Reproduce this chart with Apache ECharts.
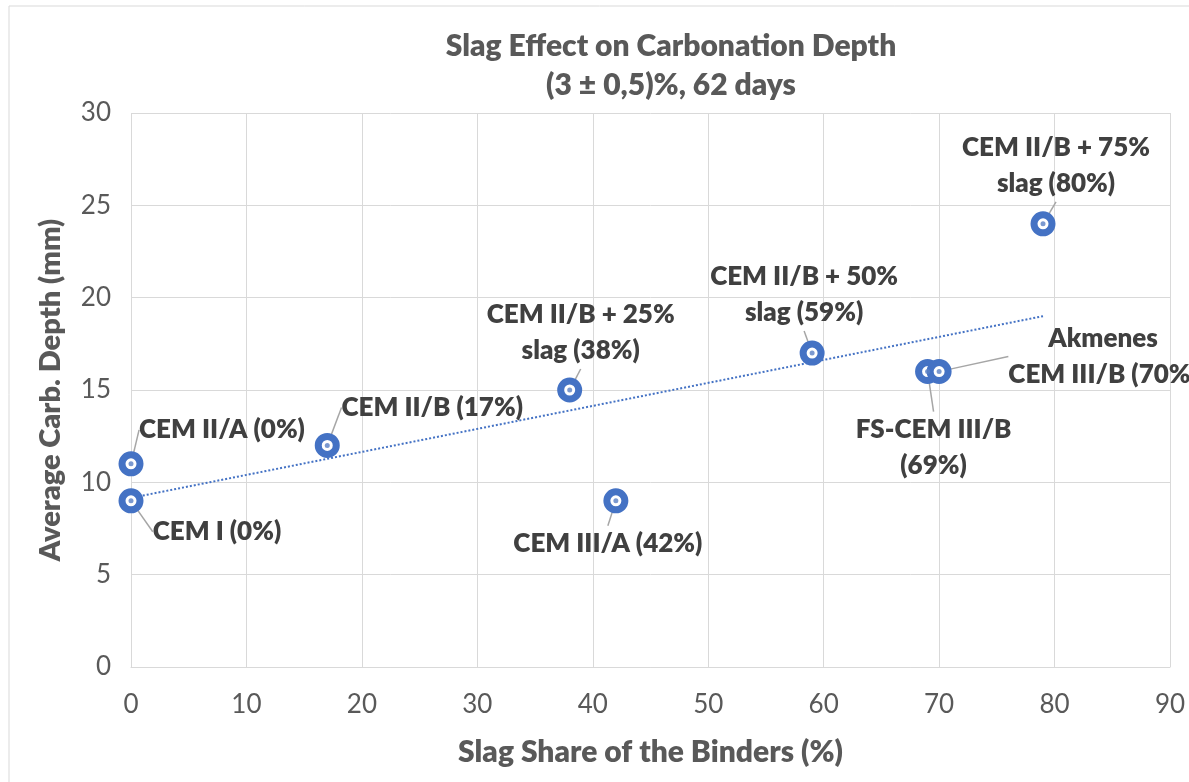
<!DOCTYPE html>
<html>
<head>
<meta charset="utf-8">
<title>Slag Effect on Carbonation Depth</title>
<script src="https://cdn.jsdelivr.net/npm/echarts@6.0.0/dist/echarts.min.js"></script>
<style>
  html, body { margin: 0; padding: 0; background: #fff; }
  #chart { width: 1189px; height: 782px; }
</style>
</head>
<body>
<div id="chart"></div>
<script>
// data
var mixNames = [
  'CEM I (0%)',
  'CEM II/A (0%)',
  'CEM II/B (17%)',
  'CEM II/B + 25%\nslag (38%)',
  'CEM III/A (42%)',
  'CEM II/B + 50%\nslag (59%)',
  'FS-CEM III/B\n(69%)',
  'Akmenes\nCEM III/B (70%)',
  'CEM II/B + 75%\nslag (80%)'
]
var slagShare = [0, 0, 17, 38, 42, 59, 69, 70, 79]
var carbDepth = [9, 11, 12, 15, 9, 17, 16, 16, 24]

// where each data label sits relative to its marker (px)
var labelShift = [
  [86, 31], [91, -34], [105, -38], [11, -57], [-8, 43],
  [-8, -58], [6, 76], [164, -15], [13, -58]
]

var points = slagShare.map(function (x, i) { return [x, carbDepth[i]] })

// linear trendline (least squares) like Excel's
function trend(xs, ys) {
  var n = xs.length, sx = 0, sy = 0, sxy = 0, sxx = 0
  for (var i = 0; i < n; i++) {
    sx += xs[i]; sy += ys[i]; sxy += xs[i] * ys[i]; sxx += xs[i] * xs[i]
  }
  var k = (n * sxy - sx * sy) / (n * sxx - sx * sx)
  var b = (sy - k * sx) / n
  var x0 = Math.min.apply(null, xs), x1 = Math.max.apply(null, xs)
  return [[x0, b + k * x0], [x1, b + k * x1]]
}

var FONT = 'Lato'
var GRAY = '#595959'
var BLUE = '#4472C4'

var chart = echarts.init(document.getElementById('chart'))
var option = {
  animation: false,
  backgroundColor: '#fff',
  graphic: [
    {
      type: 'rect',
      shape: { x: 9, y: 6, width: 1200, height: 800 },
      style: { fill: 'none', stroke: '#d9d9d9', lineWidth: 1 },
      silent: true
    },
    {
      type: 'text',
      x: 671, y: 46,
      style: {
        text: 'Slag Effect on Carbonation Depth',
        fill: GRAY, font: '800 30px ' + FONT,
        align: 'center', verticalAlign: 'middle'
      }
    },
    {
      type: 'text',
      x: 671, y: 85,
      style: {
        text: '(3 \u00b1 0,5)%, 62 days',
        fill: GRAY, font: '800 30px ' + FONT,
        align: 'center', verticalAlign: 'middle'
      }
    }
  ],
  grid: { left: 131, right: 19, top: 113, bottom: 115, outerBoundsMode: 'none' },
  xAxis: {
    type: 'value',
    min: 0, max: 90, interval: 10,
    name: 'Slag Share of the Binders (%)',
    nameLocation: 'middle',
    nameGap: 85,
    nameTextStyle: { color: GRAY, fontFamily: FONT, fontWeight: 800, fontSize: 30, verticalAlign: 'middle' },
    axisLine: { show: true, lineStyle: { color: '#d9d9d9', width: 1 } },
    axisTick: { show: false },
    axisLabel: { color: GRAY, fontFamily: FONT, fontSize: 26, margin: 25 },
    splitLine: { show: true, lineStyle: { color: '#d9d9d9', width: 1 } }
  },
  yAxis: {
    type: 'value',
    min: 0, max: 30, interval: 5,
    name: 'Average Carb. Depth (mm)',
    nameLocation: 'middle',
    nameGap: 80,
    nameTextStyle: { color: GRAY, fontFamily: FONT, fontWeight: 800, fontSize: 29, verticalAlign: 'middle' },
    axisLine: { show: false },
    axisTick: { show: false },
    axisLabel: { color: GRAY, fontFamily: FONT, fontSize: 26, margin: 20 },
    splitLine: { show: true, lineStyle: { color: '#d9d9d9', width: 1 } }
  },
  series: [
    {
      name: 'Trend',
      type: 'line',
      data: trend(slagShare, carbDepth),
      showSymbol: false,
      silent: true,
      lineStyle: { color: BLUE, width: 2, type: 'dotted' },
      z: 1
    },
    {
      name: 'Mixes',
      type: 'scatter',
      data: points,
      symbol: 'circle',
      symbolSize: 18,
      itemStyle: { color: '#fff', borderColor: BLUE, borderWidth: 7, opacity: 1 },
      label: {
        show: true,
        position: 'inside',
        formatter: function (p) { return mixNames[p.dataIndex] },
        color: '#404040',
        fontFamily: FONT,
        fontWeight: 800,
        fontSize: 26,
        lineHeight: 36,
        align: 'center'
      },
      labelLine: { show: true, lineStyle: { color: '#a6a6a6', width: 1.5 } },
      labelLayout: function (p) {
        var s = labelShift[p.dataIndex]
        return { dx: s[0], dy: s[1] }
      },
      z: 3
    },
    {
      name: 'Dot',
      type: 'scatter',
      data: points,
      symbolSize: 5,
      silent: true,
      itemStyle: { color: '#5a7fc4' },
      z: 4
    }
  ]
}
chart.setOption(option)
</script>
</body>
</html>
